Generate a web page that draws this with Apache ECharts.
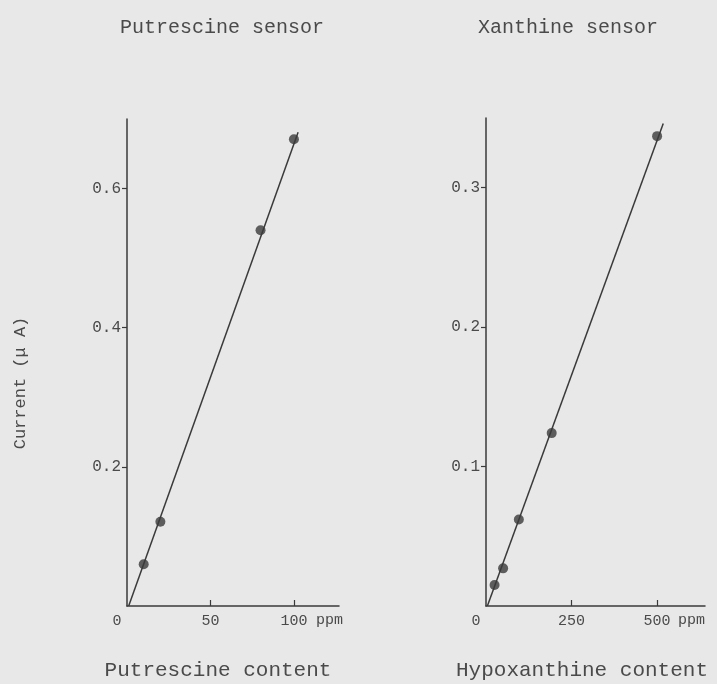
<!DOCTYPE html>
<html>
<head>
<meta charset="utf-8">
<script src="https://cdn.jsdelivr.net/npm/echarts@6/dist/echarts.min.js"></script>
<style>html,body{margin:0;padding:0;background:#e8e8e8;}#c{width:717px;height:684px;}</style>
</head>
<body>
<div id="c"></div>
<script>
// Putrescine sensor (left panel)
const putX = [10, 20, 80, 100];
const putY = [0.06, 0.121, 0.54, 0.671];
const putFitX = [1, 102.5];
const putFitY = [0, 0.681];
const putTickX = [50, 100];
const putLabelX = [0, 50, 100];
const putTickY = [0.2, 0.4, 0.6];

// Xanthine sensor (right panel)
const xanX = [25, 50, 96, 192, 500];
const xanY = [0.015, 0.027, 0.062, 0.124, 0.337];
const xanFitX = [4, 518];
const xanFitY = [0, 0.346];
const xanTickX = [250, 500];
const xanLabelX = [0, 250, 500];
const xanTickY = [0.1, 0.2, 0.3];

const titles = ['Putrescine sensor', 'Xanthine sensor'];
const xNames = ['Putrescine content', 'Hypoxanthine content'];
const yName = 'Current (\u03bc A)';
const unit = 'ppm';

const ink = '#3a3a3a';
const txt = '#4a4a4a';
const font = 'Liberation Mono';

const zip = (a, b) => a.map((v, i) => [v, b[i]]);

function xAxis(gi, max, ticks, labels, gap) {
  return {
    type: 'value', gridIndex: gi, min: 0, max: max,
    axisLine: { show: true, onZero: false, lineStyle: { color: ink, width: 1.5 } },
    axisTick: { show: true, inside: true, length: 6, customValues: ticks, lineStyle: { color: ink, width: 1.2 } },
    axisLabel: {
      customValues: labels, margin: 8, fontFamily: font, fontSize: 15, color: txt,
      formatter: v => v === 0 ? '{z|0}' : String(v),
      rich: { z: { padding: [0, 20, 0, 0], fontFamily: font, fontSize: 15, color: txt } }
    },
    splitLine: { show: false },
    name: unit, nameLocation: 'end', nameGap: gap,
    nameTextStyle: { fontFamily: font, fontSize: 15, color: txt, verticalAlign: 'top', padding: [7, 0, 0, 0] }
  };
}
function yAxis(gi, max, ticks) {
  return {
    type: 'value', gridIndex: gi, min: 0, max: max,
    axisLine: { show: true, onZero: false, lineStyle: { color: ink, width: 1.5 } },
    axisTick: { show: true, inside: false, length: 5, customValues: ticks, lineStyle: { color: ink, width: 1.2 } },
    axisLabel: { customValues: ticks, margin: 6, fontFamily: font, fontSize: 16, color: txt },
    splitLine: { show: false }
  };
}

const chart = echarts.init(document.getElementById('c'));
chart.setOption({
  backgroundColor: '#e8e8e8',
  animation: false,
  grid: [
    { left: 127, top: 119, width: 212, bottom: 78, containLabel: false, outerBoundsMode: 'none' },
    { left: 486, top: 118, width: 219, bottom: 78, containLabel: false, outerBoundsMode: 'none' }
  ],
  xAxis: [xAxis(0, 127, putTickX, putLabelX, -23), xAxis(1, 640, xanTickX, xanLabelX, -27)],
  yAxis: [yAxis(0, 0.7, putTickY), yAxis(1, 0.35, xanTickY)],
  series: [
    { type: 'line', xAxisIndex: 0, yAxisIndex: 0, data: zip(putFitX, putFitY), showSymbol: false, lineStyle: { color: ink, width: 1.5 } },
    { type: 'scatter', xAxisIndex: 0, yAxisIndex: 0, data: zip(putX, putY), symbolSize: 10, itemStyle: { color: ink } },
    { type: 'line', xAxisIndex: 1, yAxisIndex: 1, data: zip(xanFitX, xanFitY), showSymbol: false, lineStyle: { color: ink, width: 1.5 } },
    { type: 'scatter', xAxisIndex: 1, yAxisIndex: 1, data: zip(xanX, xanY), symbolSize: 10, itemStyle: { color: ink } }
  ],
  graphic: [
    { type: 'text', x: 222, y: 28, style: { text: titles[0], fontFamily: font, fontSize: 20, fill: txt, align: 'center', verticalAlign: 'middle' } },
    { type: 'text', x: 568, y: 28, style: { text: titles[1], fontFamily: font, fontSize: 20, fill: txt, align: 'center', verticalAlign: 'middle' } },
    { type: 'text', x: 218, y: 670, style: { text: xNames[0], fontFamily: font, fontSize: 21, fill: txt, align: 'center', verticalAlign: 'middle' } },
    { type: 'text', x: 582, y: 670, style: { text: xNames[1], fontFamily: font, fontSize: 21, fill: txt, align: 'center', verticalAlign: 'middle' } },
    { type: 'text', x: 20, y: 383, rotation: Math.PI / 2, style: { text: yName, fontFamily: font, fontSize: 17, fill: txt, align: 'center', verticalAlign: 'middle' } }
  ]
});
</script>
</body>
</html>
